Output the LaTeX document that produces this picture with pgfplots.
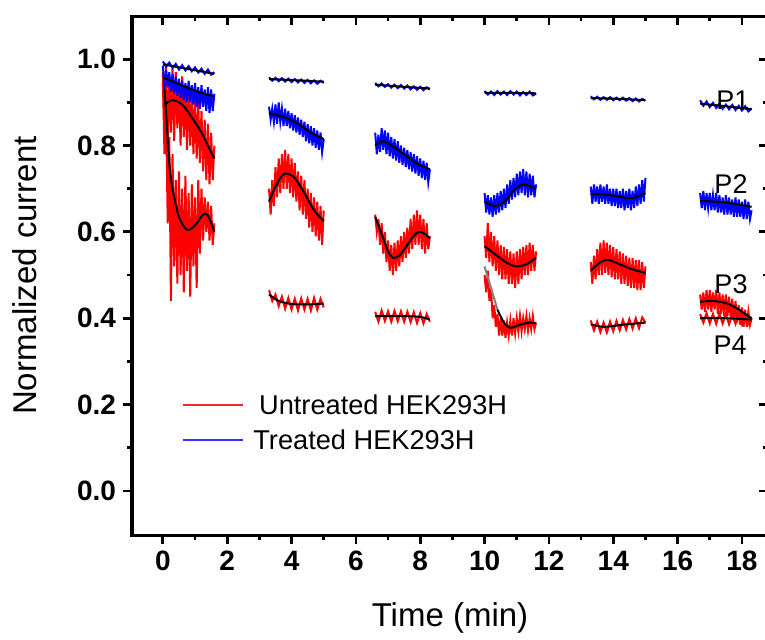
\documentclass[border=0pt]{standalone}
\usepackage{pgfplots}
\pgfplotsset{compat=1.18}
\usepackage{fontspec}
\setmainfont{Liberation Sans}

\pgfplotsset{
  noisy/.style={line width=1pt, forget plot},
  fitline/.style={black, line width=1pt, smooth, forget plot},
  frame/.style={
    scale only axis, width=318pt, height=259.5pt,
    xmin=-0.96, xmax=18.81, ymin=-0.102, ymax=1.1,
    xtick={0,2,...,18}, ytick={0,0.2,0.4,0.6,0.8,1.0},
    minor x tick num=1, minor y tick num=1,
    major tick length=4.5pt, minor tick length=2.5pt,
    tick style={black, line width=1.4pt},
    axis line style={line width=1.5pt},
  },
}

\begin{document}
\begin{tikzpicture}
\begin{axis}[
  frame,
  xtick pos=left, ytick pos=left, tick align=outside,
  ticklabel style={font=\fontsize{14}{14}\selectfont\bfseries},
  /pgf/number format/assume math mode=true,
  yticklabel style={/pgf/number format/.cd, fixed, fixed zerofill, precision=1},
  xlabel={Time (min)}, ylabel={Normalized current},
  label style={font=\fontsize{16.5}{16.5}\selectfont},
  xlabel style={at={(axis description cs:0.5,-0.16)}, anchor=center},
  ylabel style={at={(axis description cs:-0.168,0.5)}, anchor=center},
]

% ---------- untreated (red): P3 and P4 ----------
% segment 1
\addplot[red, noisy] coordinates {
(0.00,0.97)(0.05,0.82)(0.10,0.99)(0.15,0.80)(0.20,0.96)(0.25,0.83)(0.30,0.98)(0.35,0.81)
(0.40,0.97)(0.45,0.84)(0.50,0.95)(0.55,0.80)(0.60,0.96)(0.65,0.82)(0.70,0.94)(0.75,0.79)
(0.80,0.93)(0.85,0.80)(0.90,0.92)(0.95,0.78)(1.00,0.91)(1.05,0.77)(1.10,0.90)(1.15,0.76)
(1.20,0.88)(1.25,0.74)(1.30,0.86)(1.35,0.72)(1.40,0.85)(1.45,0.71)(1.50,0.83)(1.55,0.72)(1.60,0.80)};
\addplot[red, noisy] coordinates {
(0.00,0.95)(0.05,0.78)(0.10,0.88)(0.15,0.62)(0.20,0.82)(0.25,0.44)(0.30,0.78)(0.35,0.52)
(0.40,0.72)(0.45,0.48)(0.50,0.74)(0.55,0.50)(0.60,0.70)(0.65,0.46)(0.70,0.73)(0.75,0.51)
(0.80,0.69)(0.85,0.45)(0.90,0.71)(0.95,0.52)(1.00,0.68)(1.05,0.47)(1.10,0.72)(1.15,0.55)
(1.20,0.70)(1.25,0.58)(1.30,0.68)(1.35,0.60)(1.40,0.67)(1.45,0.58)(1.50,0.66)(1.55,0.57)(1.60,0.62)};
% segment 2
\addplot[red, noisy] coordinates {
(3.30,0.70)(3.35,0.64)(3.40,0.72)(3.45,0.66)(3.50,0.75)(3.55,0.68)(3.60,0.77)(3.65,0.69)
(3.70,0.78)(3.75,0.70)(3.80,0.79)(3.85,0.70)(3.90,0.78)(3.95,0.69)(4.00,0.77)(4.05,0.68)
(4.10,0.76)(4.15,0.67)(4.20,0.74)(4.25,0.65)(4.30,0.73)(4.35,0.64)(4.40,0.72)(4.45,0.63)
(4.50,0.70)(4.55,0.61)(4.60,0.69)(4.65,0.60)(4.70,0.68)(4.75,0.59)(4.80,0.67)(4.85,0.58)
(4.90,0.66)(4.95,0.57)(5.00,0.65)};
\addplot[red, noisy] coordinates {
(3.3,0.465)(3.4,0.44)(3.5,0.455)(3.6,0.428)(3.7,0.45)(3.8,0.422)(3.9,0.447)(4.0,0.42)
(4.1,0.445)(4.2,0.418)(4.3,0.446)(4.4,0.42)(4.5,0.445)(4.6,0.418)(4.7,0.447)(4.8,0.42)
(4.9,0.445)(5.0,0.425)};
% segment 3
\addplot[red, noisy] coordinates {
(6.60,0.64)(6.65,0.60)(6.70,0.63)(6.75,0.57)(6.80,0.62)(6.85,0.55)(6.90,0.60)(6.95,0.53)
(7.00,0.58)(7.05,0.51)(7.10,0.57)(7.15,0.50)(7.20,0.575)(7.25,0.51)(7.30,0.58)(7.35,0.52)
(7.40,0.59)(7.45,0.53)(7.50,0.60)(7.55,0.54)(7.60,0.61)(7.65,0.55)(7.70,0.63)(7.75,0.56)
(7.80,0.64)(7.85,0.57)(7.90,0.65)(7.95,0.57)(8.00,0.64)(8.05,0.56)(8.10,0.63)(8.15,0.55)
(8.20,0.62)(8.25,0.56)(8.30,0.59)};
\addplot[red, noisy] coordinates {
(6.6,0.415)(6.7,0.392)(6.8,0.418)(6.9,0.394)(7.0,0.416)(7.1,0.392)(7.2,0.417)(7.3,0.393)
(7.4,0.416)(7.5,0.392)(7.6,0.415)(7.7,0.391)(7.8,0.414)(7.9,0.389)(8.0,0.412)(8.1,0.388)
(8.2,0.41)(8.3,0.392)};
% segment 4
\addplot[red, noisy] coordinates {
(10.00,0.59)(10.05,0.54)(10.10,0.62)(10.15,0.53)(10.20,0.60)(10.25,0.52)(10.30,0.59)(10.35,0.51)
(10.40,0.58)(10.45,0.50)(10.50,0.57)(10.55,0.49)(10.60,0.565)(10.65,0.49)(10.70,0.56)(10.75,0.48)
(10.80,0.555)(10.85,0.48)(10.90,0.55)(10.95,0.47)(11.00,0.555)(11.05,0.48)(11.10,0.56)(11.15,0.49)
(11.20,0.565)(11.25,0.50)(11.30,0.57)(11.35,0.50)(11.40,0.575)(11.45,0.51)(11.50,0.57)(11.55,0.51)
(11.60,0.555)};
\addplot[red, noisy] coordinates {
(10.00,0.50)(10.05,0.46)(10.10,0.51)(10.15,0.44)(10.20,0.47)(10.25,0.40)(10.30,0.43)(10.35,0.38)
(10.40,0.41)(10.45,0.36)(10.50,0.40)(10.55,0.36)(10.60,0.395)(10.65,0.355)(10.70,0.39)(10.75,0.36)
(10.80,0.395)(10.85,0.36)(10.90,0.40)(10.95,0.365)(11.00,0.40)(11.05,0.37)(11.10,0.405)(11.15,0.37)
(11.20,0.40)(11.25,0.375)(11.30,0.405)(11.35,0.372)(11.40,0.40)(11.45,0.375)(11.50,0.405)(11.55,0.375)
(11.60,0.39)};
% segment 5
\addplot[red, noisy] coordinates {
(13.30,0.53)(13.35,0.48)(13.40,0.545)(13.45,0.49)(13.50,0.56)(13.55,0.50)(13.60,0.575)(13.65,0.50)
(13.70,0.58)(13.75,0.505)(13.80,0.575)(13.85,0.50)(13.90,0.57)(13.95,0.495)(14.00,0.565)(14.05,0.49)
(14.10,0.56)(14.15,0.49)(14.20,0.555)(14.25,0.48)(14.30,0.55)(14.35,0.48)(14.40,0.545)(14.45,0.475)
(14.50,0.54)(14.55,0.47)(14.60,0.54)(14.65,0.47)(14.70,0.535)(14.75,0.465)(14.80,0.535)(14.85,0.465)
(14.90,0.53)(14.95,0.47)(15.00,0.52)};
\addplot[red, noisy] coordinates {
(13.3,0.395)(13.4,0.372)(13.5,0.392)(13.6,0.368)(13.7,0.39)(13.8,0.367)(13.9,0.392)(14.0,0.37)
(14.1,0.394)(14.2,0.372)(14.3,0.396)(14.4,0.374)(14.5,0.398)(14.6,0.376)(14.7,0.4)(14.8,0.377)
(14.9,0.402)(15.0,0.39)};
% segment 6
\addplot[red, noisy] coordinates {
(16.70,0.455)(16.75,0.42)(16.80,0.46)(16.85,0.415)(16.90,0.465)(16.95,0.42)(17.00,0.465)(17.05,0.415)
(17.10,0.46)(17.15,0.42)(17.20,0.465)(17.25,0.41)(17.30,0.46)(17.35,0.41)(17.40,0.455)(17.45,0.405)
(17.50,0.455)(17.55,0.405)(17.60,0.45)(17.65,0.40)(17.70,0.445)(17.75,0.395)(17.80,0.44)(17.85,0.39)
(17.90,0.43)(17.95,0.385)(18.00,0.425)(18.05,0.38)(18.10,0.42)(18.15,0.38)(18.20,0.415)(18.25,0.385)
(18.30,0.40)};
\addplot[red, noisy] coordinates {
(16.7,0.41)(16.8,0.39)(16.9,0.412)(17.0,0.388)(17.1,0.41)(17.2,0.387)(17.3,0.411)(17.4,0.388)
(17.5,0.41)(17.6,0.386)(17.7,0.409)(17.8,0.387)(17.9,0.41)(18.0,0.386)(18.1,0.408)(18.2,0.387)
(18.3,0.398)};

% ---------- treated (blue): P1 and P2 ----------
% segment 1
\addplot[blue, noisy] coordinates {
(0.0,0.995)(0.1,0.982)(0.2,0.992)(0.3,0.980)(0.4,0.989)(0.5,0.976)(0.6,0.986)(0.7,0.974)
(0.8,0.984)(0.9,0.972)(1.0,0.981)(1.1,0.969)(1.2,0.978)(1.3,0.966)(1.4,0.976)(1.5,0.964)(1.6,0.970)};
\addplot[blue, noisy] coordinates {
(0.00,0.985)(0.05,0.93)(0.10,0.975)(0.15,0.935)(0.20,0.97)(0.25,0.925)(0.30,0.965)(0.35,0.92)
(0.40,0.96)(0.45,0.915)(0.50,0.955)(0.55,0.91)(0.60,0.95)(0.65,0.905)(0.70,0.945)(0.75,0.90)
(0.80,0.95)(0.85,0.90)(0.90,0.94)(0.95,0.895)(1.00,0.945)(1.05,0.89)(1.10,0.935)(1.15,0.885)
(1.20,0.94)(1.25,0.89)(1.30,0.93)(1.35,0.88)(1.40,0.935)(1.45,0.875)(1.50,0.93)(1.55,0.88)(1.60,0.92)};
% segment 2
\addplot[blue, noisy] coordinates {
(3.3,0.958)(3.4,0.950)(3.5,0.957)(3.6,0.949)(3.7,0.956)(3.8,0.948)(3.9,0.955)(4.0,0.947)
(4.1,0.954)(4.2,0.946)(4.3,0.953)(4.4,0.945)(4.5,0.952)(4.6,0.944)(4.7,0.951)(4.8,0.943)
(4.9,0.950)(5.0,0.945)};
\addplot[blue, noisy] coordinates {
(3.30,0.89)(3.35,0.86)(3.40,0.885)(3.45,0.855)(3.50,0.895)(3.55,0.85)(3.60,0.90)(3.65,0.855)
(3.70,0.885)(3.75,0.845)(3.80,0.885)(3.85,0.845)(3.90,0.88)(3.95,0.84)(4.00,0.875)(4.05,0.835)
(4.10,0.87)(4.15,0.83)(4.20,0.865)(4.25,0.825)(4.30,0.86)(4.35,0.82)(4.40,0.855)(4.45,0.81)
(4.50,0.85)(4.55,0.805)(4.60,0.845)(4.65,0.80)(4.70,0.84)(4.75,0.795)(4.80,0.835)(4.85,0.79)
(4.90,0.83)(4.95,0.785)(5.00,0.815)};
% segment 3
\addplot[blue, noisy] coordinates {
(6.6,0.945)(6.7,0.937)(6.8,0.944)(6.9,0.936)(7.0,0.942)(7.1,0.934)(7.2,0.941)(7.3,0.933)
(7.4,0.940)(7.5,0.932)(7.6,0.939)(7.7,0.930)(7.8,0.937)(7.9,0.929)(8.0,0.936)(8.1,0.928)
(8.2,0.935)(8.3,0.930)};
\addplot[blue, noisy] coordinates {
(6.60,0.83)(6.65,0.78)(6.70,0.825)(6.75,0.785)(6.80,0.84)(6.85,0.79)(6.90,0.835)(6.95,0.78)
(7.00,0.83)(7.05,0.775)(7.10,0.82)(7.15,0.77)(7.20,0.815)(7.25,0.765)(7.30,0.81)(7.35,0.76)
(7.40,0.80)(7.45,0.755)(7.50,0.795)(7.55,0.75)(7.60,0.79)(7.65,0.745)(7.70,0.785)(7.75,0.74)
(7.80,0.78)(7.85,0.735)(7.90,0.775)(7.95,0.73)(8.00,0.77)(8.05,0.725)(8.10,0.765)(8.15,0.72)
(8.20,0.76)(8.25,0.715)(8.30,0.745)};
% segment 4
\addplot[blue, noisy] coordinates {
(10.0,0.926)(10.1,0.918)(10.2,0.925)(10.3,0.917)(10.4,0.926)(10.5,0.918)(10.6,0.925)(10.7,0.917)
(10.8,0.926)(10.9,0.918)(11.0,0.925)(11.1,0.916)(11.2,0.924)(11.3,0.917)(11.4,0.925)(11.5,0.916)
(11.6,0.92)};
\addplot[blue, noisy] coordinates {
(10.00,0.69)(10.05,0.645)(10.10,0.685)(10.15,0.64)(10.20,0.68)(10.25,0.635)(10.30,0.685)(10.35,0.64)
(10.40,0.69)(10.45,0.645)(10.50,0.695)(10.55,0.65)(10.60,0.70)(10.65,0.655)(10.70,0.71)(10.75,0.665)
(10.80,0.72)(10.85,0.675)(10.90,0.725)(10.95,0.68)(11.00,0.735)(11.05,0.685)(11.10,0.74)(11.15,0.69)
(11.20,0.745)(11.25,0.685)(11.30,0.74)(11.35,0.68)(11.40,0.735)(11.45,0.685)(11.50,0.73)(11.55,0.68)
(11.60,0.71)};
% segment 5
\addplot[blue, noisy] coordinates {
(13.3,0.914)(13.4,0.907)(13.5,0.913)(13.6,0.906)(13.7,0.912)(13.8,0.906)(13.9,0.912)(14.0,0.905)
(14.1,0.911)(14.2,0.905)(14.3,0.911)(14.4,0.904)(14.5,0.910)(14.6,0.903)(14.7,0.909)(14.8,0.902)
(14.9,0.908)(15.0,0.904)};
\addplot[blue, noisy] coordinates {
(13.30,0.705)(13.35,0.665)(13.40,0.71)(13.45,0.67)(13.50,0.705)(13.55,0.665)(13.60,0.71)(13.65,0.67)
(13.70,0.705)(13.75,0.665)(13.80,0.71)(13.85,0.665)(13.90,0.70)(13.95,0.66)(14.00,0.70)(14.05,0.66)
(14.10,0.70)(14.15,0.655)(14.20,0.695)(14.25,0.655)(14.30,0.70)(14.35,0.65)(14.40,0.695)(14.45,0.655)
(14.50,0.70)(14.55,0.65)(14.60,0.695)(14.65,0.655)(14.70,0.705)(14.75,0.66)(14.80,0.71)(14.85,0.665)
(14.90,0.72)(14.95,0.67)(15.00,0.725)};
% segment 6
\addplot[blue, noisy] coordinates {
(16.7,0.905)(16.8,0.892)(16.9,0.902)(17.0,0.889)(17.1,0.899)(17.2,0.887)(17.3,0.897)(17.4,0.885)
(17.5,0.895)(17.6,0.884)(17.7,0.894)(17.8,0.882)(17.9,0.892)(18.0,0.881)(18.1,0.891)(18.2,0.879)
(18.3,0.886)};
\addplot[blue, noisy] coordinates {
(16.70,0.69)(16.75,0.655)(16.80,0.695)(16.85,0.65)(16.90,0.69)(16.95,0.655)(17.00,0.69)(17.05,0.65)
(17.10,0.685)(17.15,0.65)(17.20,0.69)(17.25,0.645)(17.30,0.685)(17.35,0.645)(17.40,0.68)(17.45,0.64)
(17.50,0.685)(17.55,0.64)(17.60,0.68)(17.65,0.64)(17.70,0.675)(17.75,0.635)(17.80,0.68)(17.85,0.635)
(17.90,0.675)(17.95,0.635)(18.00,0.67)(18.05,0.63)(18.10,0.675)(18.15,0.63)(18.20,0.67)(18.25,0.63)
(18.30,0.65)};

% ---------- fitted curves ----------
% P1
\addplot[fitline] coordinates {(0,0.988)(0.8,0.977)(1.6,0.966)};
\addplot[fitline] coordinates {(3.3,0.954)(4.2,0.951)(5,0.948)};
\addplot[fitline] coordinates {(6.6,0.941)(7.5,0.936)(8.3,0.932)};
\addplot[fitline] coordinates {(10,0.922)(10.8,0.922)(11.6,0.921)};
\addplot[fitline] coordinates {(13.3,0.910)(14.2,0.908)(15,0.905)};
\addplot[fitline] coordinates {(16.7,0.897)(17.5,0.891)(18.3,0.884)};
% P2
\addplot[fitline] coordinates {(0,0.958)(0.5,0.942)(1.0,0.927)(1.4,0.917)(1.6,0.915)};
\addplot[fitline] coordinates {(3.3,0.875)(3.8,0.865)(4.2,0.85)(4.6,0.83)(5,0.815)};
\addplot[fitline] coordinates {(6.6,0.80)(6.85,0.81)(7.1,0.80)(7.5,0.78)(7.9,0.758)(8.3,0.745)};
\addplot[fitline] coordinates {(10,0.67)(10.3,0.66)(10.6,0.668)(10.9,0.695)(11.2,0.71)(11.6,0.70)};
\addplot[fitline] coordinates {(13.3,0.688)(13.8,0.686)(14.3,0.68)(14.6,0.678)(15,0.69)};
\addplot[fitline] coordinates {(16.7,0.672)(17.5,0.668)(18.3,0.658)};
% P3
\addplot[fitline] coordinates {(0.05,0.895)(0.3,0.905)(0.6,0.895)(0.9,0.865)(1.2,0.83)(1.4,0.80)(1.6,0.77)};
\addplot[fitline] coordinates {(3.3,0.67)(3.5,0.705)(3.7,0.73)(3.85,0.735)(4.1,0.725)(4.4,0.69)(4.7,0.65)(5,0.625)};
\addplot[fitline] coordinates {(6.6,0.635)(6.8,0.595)(7.0,0.555)(7.15,0.54)(7.35,0.545)(7.6,0.57)(7.85,0.595)(8.0,0.6)(8.15,0.595)(8.3,0.585)};
\addplot[fitline] coordinates {(10,0.567)(10.3,0.55)(10.7,0.528)(11.0,0.52)(11.3,0.525)(11.6,0.54)};
\addplot[fitline] coordinates {(13.3,0.51)(13.6,0.53)(13.85,0.535)(14.2,0.525)(14.6,0.513)(15,0.505)};
\addplot[fitline] coordinates {(16.7,0.438)(17.1,0.44)(17.5,0.435)(17.8,0.425)(18.1,0.41)(18.3,0.40)};
% P4
\addplot[fitline] coordinates {(0.05,0.93)(0.12,0.85)(0.2,0.76)(0.3,0.70)(0.5,0.635)(0.75,0.605)(1.0,0.615)(1.25,0.64)(1.4,0.638)(1.6,0.60)};
\addplot[fitline] coordinates {(3.3,0.455)(3.6,0.44)(4.0,0.433)(4.5,0.432)(5,0.434)};
\addplot[fitline] coordinates {(6.6,0.405)(7.5,0.405)(8.0,0.403)(8.3,0.397)};
\addplot[fitline, gray] coordinates {(10,0.52)(10.2,0.47)(10.4,0.42)};
\addplot[fitline] coordinates {(10.4,0.42)(10.6,0.39)(10.8,0.378)(11.1,0.385)(11.4,0.39)(11.6,0.388)};
\addplot[fitline] coordinates {(13.3,0.386)(13.7,0.38)(14.3,0.385)(15,0.39)};
\addplot[fitline] coordinates {(16.7,0.40)(17.5,0.40)(18.3,0.397)};

% curve labels
\node[font=\fontsize{13.5}{13.5}\selectfont] at (axis cs:17.72,0.905) {P1};
\node[font=\fontsize{13.5}{13.5}\selectfont] at (axis cs:17.66,0.71) {P2};
\node[font=\fontsize{13.5}{13.5}\selectfont] at (axis cs:17.66,0.48) {P3};
\node[font=\fontsize{13.5}{13.5}\selectfont] at (axis cs:17.63,0.338) {P4};

% legend
\draw[red!85, line width=0.8pt] (axis cs:0.62,0.199) -- (axis cs:2.49,0.199);
\draw[blue!80, line width=0.8pt] (axis cs:0.62,0.118) -- (axis cs:2.49,0.118);
\node[anchor=west, inner sep=0pt, font=\fontsize{13.6}{13.6}\selectfont] at (axis cs:2.98,0.199) {Untreated HEK293H};
\node[anchor=west, inner sep=0pt, font=\fontsize{13.6}{13.6}\selectfont] at (axis cs:2.80,0.118) {Treated HEK293H};
\end{axis}

% mirrored ticks on top and right, pointing inward
\begin{axis}[
  frame,
  xtick pos=right, ytick pos=right, tick align=inside,
  xticklabels={}, yticklabels={},
]
\end{axis}

\pgfresetboundingbox
\path (-66pt,-52pt) rectangle (316.5pt,267.5pt);
\end{tikzpicture}
\end{document}
